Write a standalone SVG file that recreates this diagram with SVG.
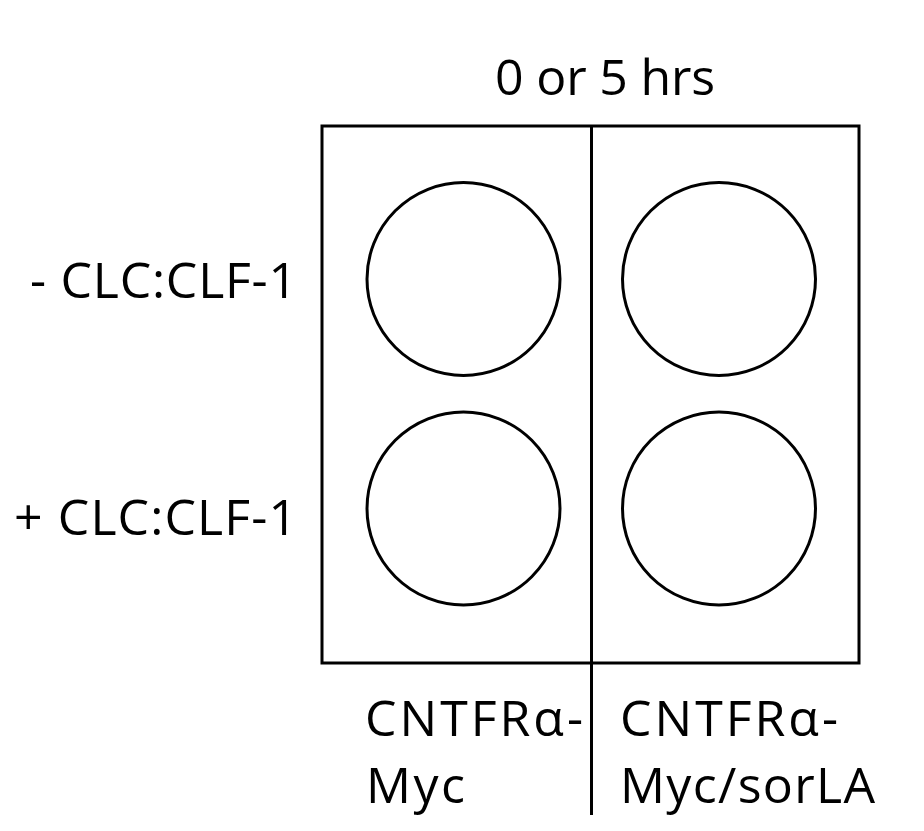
<svg xmlns="http://www.w3.org/2000/svg" width="924" height="831" viewBox="0 0 924 831">
<style>
.ln{fill:none;stroke:#000;stroke-width:3}
.t{font-family:"Open Sans","Noto Sans",sans-serif;font-size:50px;fill:#000}
</style>
<rect width="924" height="831" fill="#fff"/>
<g id="plate">
<rect class="ln" x="322" y="126" width="537" height="537"/>
</g>
<g id="connectors">
<line class="ln" x1="591.5" y1="126" x2="591.5" y2="815"/>
</g>
<g id="well-1"><circle class="ln" cx="463.5" cy="279" r="96.5"/></g>
<g id="well-2"><circle class="ln" cx="719" cy="279" r="96.5"/></g>
<g id="well-3"><circle class="ln" cx="463.5" cy="508.5" r="96.5"/></g>
<g id="well-4"><circle class="ln" cx="719" cy="508.5" r="96.5"/></g>
<g id="labels">
<text class="t" x="495" y="95" textLength="220" lengthAdjust="spacing">0 or 5 hrs</text>
<text class="t" x="30" y="298" textLength="267" lengthAdjust="spacing">- CLC:CLF-1</text>
<text class="t" x="14" y="535" textLength="283" lengthAdjust="spacing">+ CLC:CLF-1</text>
<text class="t" x="365" y="736" textLength="218" lengthAdjust="spacing">CNTFRα-</text>
<text class="t" x="366" y="803" textLength="99" lengthAdjust="spacing">Myc</text>
<text class="t" x="620" y="736" textLength="218" lengthAdjust="spacing">CNTFRα-</text>
<text class="t" x="620" y="803" textLength="255" lengthAdjust="spacing">Myc/sorLA</text>
</g>
</svg>
